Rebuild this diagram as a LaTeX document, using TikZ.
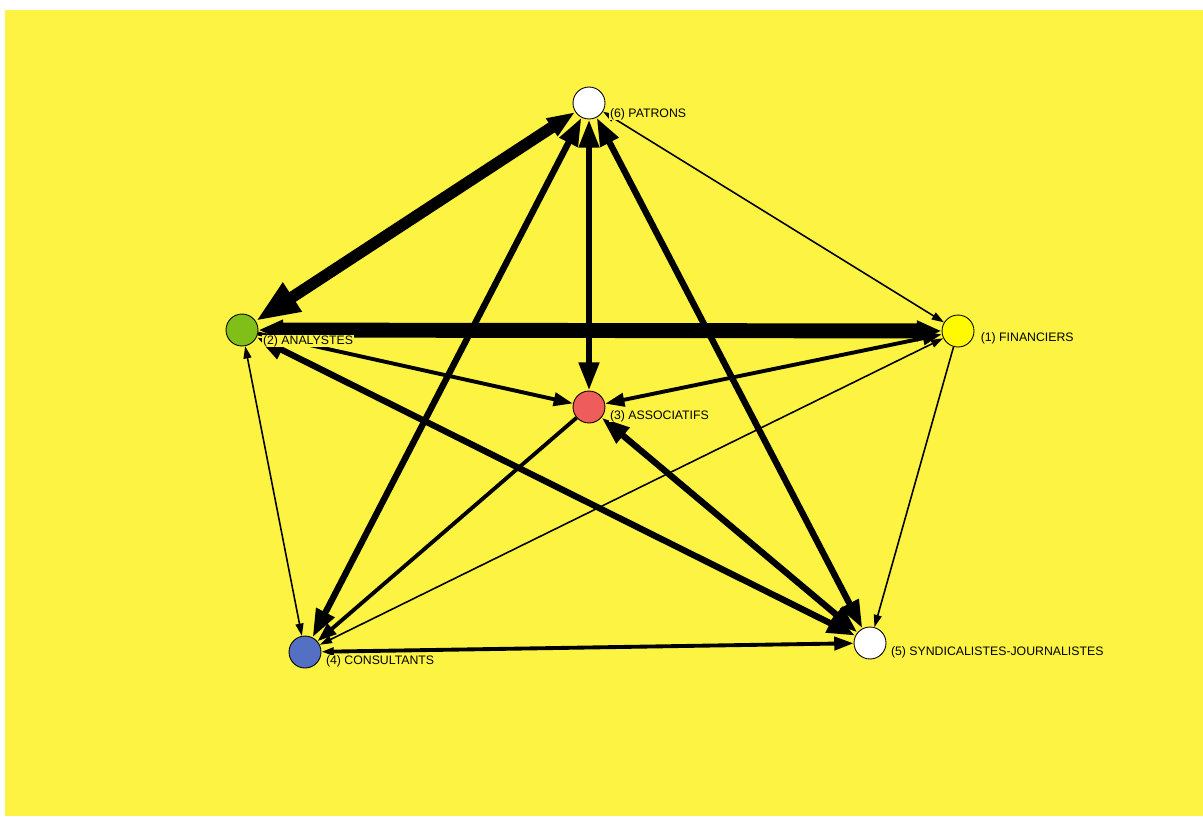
\documentclass[tikz,border=0pt]{standalone}
\usepackage{fontspec}
\setmainfont{Liberation Sans}
\usetikzlibrary{arrows.meta, calc, positioning}
\definecolor{bgyellow}{RGB}{253,243,66}
\definecolor{cgreen}{RGB}{128,190,24}
\definecolor{cyellow}{RGB}{255,250,0}
\definecolor{cred}{RGB}{238,92,92}
\definecolor{cblue}{RGB}{84,112,196}
\tikzset{
  actor/.style={circle, draw=black, line width=0.5pt, minimum size=0.64cm, inner sep=0pt},
  lab/.style={font=\fontsize{7}{8}\selectfont, fill=bgyellow, inner sep=0.4pt, anchor=west},
  hs/.tip={Triangle[length=7pt,width=4.5pt]},
  hm/.tip={Triangle[length=11pt,width=7.5pt]},
  hl/.tip={Triangle[length=16pt,width=11pt]},
  hb/.tip={Triangle[length=14pt,width=11pt]},
  hx/.tip={Triangle[length=25pt,width=18pt]},
  wthin/.style={line width=0.9pt},
  wmed/.style={line width=2.2pt},
  wthick/.style={line width=3.6pt},
  wheavy/.style={line width=6.6pt},
  wmax/.style={line width=8.5pt}
}
\begin{document}
\begin{tikzpicture}[x=0.02cm,y=-0.02cm]
    % background
    \fill[white] (0,0) rectangle (1203,816);
    \fill[bgyellow] (5,10) rectangle (1203,816);
    % actors
    \node[actor, fill=white] (pat) at (589,103) {};
    \node[actor, fill=cgreen] (ana) at (242,330) {};
    \node[actor, fill=cyellow] (fin) at (958,331) {};
    \node[actor, fill=cred] (asso) at (589,407) {};
    \node[actor, fill=cblue] (cons) at (305,652) {};
    \node[actor, fill=white] (synd) at (870,643) {};
    % relations
    \draw[wmax, hb-hb] (ana) -- (fin);
    \draw[wheavy, hx-hl] (ana) -- (pat);
    \draw[wthin, hs-hs] (pat) -- (fin);
    \draw[wthick, hl-hl] (pat) -- (asso);
    \draw[wthick, hl-hl] (pat) -- (cons);
    \draw[wthick, hl-hl] (pat) -- (synd);
    \draw[wmed, -hm] (ana) -- (asso);
    \draw[wthick, hl-hl] (ana) -- (synd);
    \draw[wthin, hs-hs] (ana) -- (cons);
    \draw[wmed, hm-hm] (fin) -- (asso);
    \draw[wthin, hs-hs] (fin) -- (cons);
    \draw[wthin, -hs] (fin) -- (synd);
    \draw[wmed, -hm] (asso) -- (cons);
    \draw[wthick, hl-hl] (asso) -- (synd);
    \draw[wmed, hs-hm] (cons) -- (synd);
    % labels
    \node[lab] (patlab) at ([xshift=2pt,yshift=-0.22cm]pat.east) {(6) PATRONS};
    \node[lab] (analab) at ([xshift=2pt,yshift=-0.22cm]ana.east) {(2) ANALYSTES};
    \node[lab] (finlab) at ([xshift=3pt,yshift=-0.14cm]fin.east) {(1) FINANCIERS};
    \node[lab] (assolab) at ([xshift=2pt,yshift=-0.18cm]asso.east) {(3) ASSOCIATIFS};
    \node[lab] (conslab) at ([xshift=2pt,yshift=-0.18cm]cons.east) {(4) CONSULTANTS};
    \node[lab] (syndlab) at ([xshift=2pt,yshift=-0.18cm]synd.east) {(5) SYNDICALISTES-JOURNALISTES};
\end{tikzpicture}
\end{document}
